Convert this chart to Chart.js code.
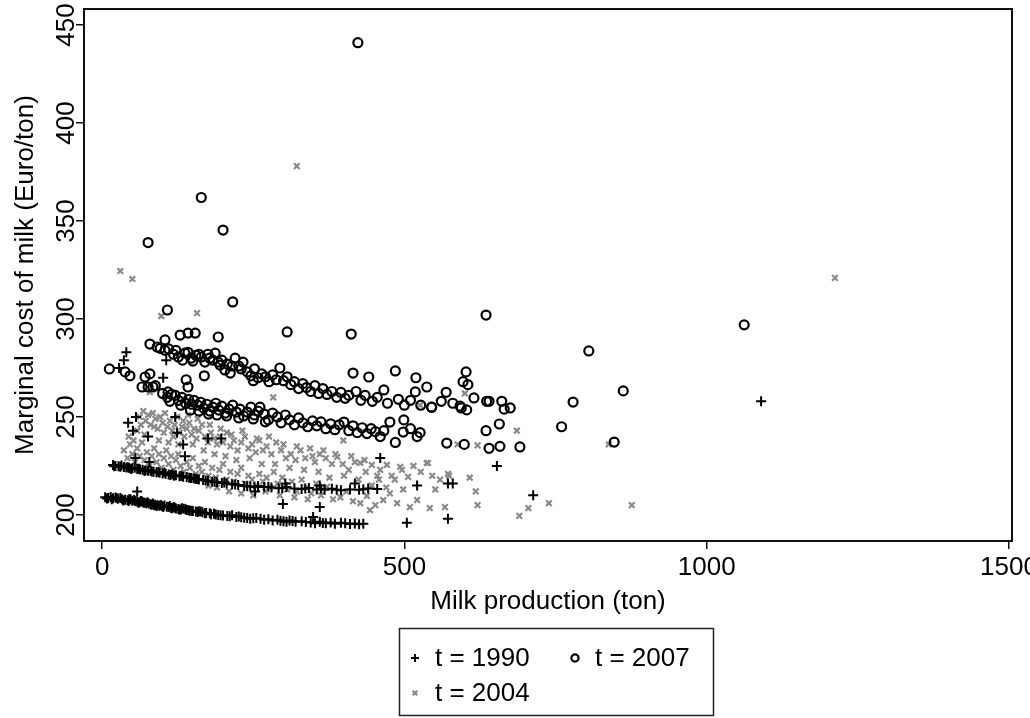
<!DOCTYPE html>
<html>
<head>
<meta charset="utf-8">
<script src="https://cdn.jsdelivr.net/npm/chart.js@4.4.0/dist/chart.umd.min.js"></script>
<style>
    html, body { margin: 0; padding: 0; background: #fff; }
    #wrap { width: 1030px; height: 718px; }
</style>
</head>
<body>
<div id="wrap"><canvas id="milkChart" width="1030" height="718"></canvas></div>
<script>
// --- Data (milk production in ton, marginal cost in Euro/ton) ---
const xTicks = [0, 500, 1000, 1500];
const yTicks = [200, 250, 300, 350, 400, 450];
const seriesLabels = ['t = 1990', 't = 2007', 't = 2004'];

const pts1990 = [
    // lower band
    [5,209],[10,208.6],[14,209.1],[18,208.5],[22,208.9],[26,208.2],[30,208.6],[33,208],[38,207.8],[42,207.5],
    [45,208.1],[47,207.9],[50,207.2],[53,207.6],[55,207],[58,206.8],[62,206.5],[64,207.1],[66,206.9],[70,206.2],
    [73,206],[75,206.5],[77,205.8],[80,205.5],[84,205.9],[88,205.2],[90,204.6],[92,205],[95,204.7],[99,204.5],
    [103,204.8],[107,204.2],[110,204],[112,204.6],[114,203.6],[118,203.9],[122,203.3],[126,203],[130,202.8],[132,203.4],
    [135,203.1],[140,202.5],[145,202.2],[150,202],[155,201.7],[160,201.9],[166,201.4],[172,201],[178,200.8],[185,200.6],
    [192,200],[200,199.7],[207,199.5],[215,199.8],[222,199],[230,198.8],[240,198.5],[250,198.3],[262,198],[275,197.8],
    [290,197.5],[300,196.8],[310,197.2],[320,196.5],[330,196.8],[345,196.2],[349,199],[352,195.8],[360,196.5],[370,195.7],
    [385,195.5],[395,196],[410,195.4],[425,195.2],[432,195.5],
    [8,208.4],[16,208],[24,208.6],[35,207.4],[44,207.1],[60,206.2],[68,206.4],[82,205.2],[86,204.9],[97,205.1],
    [101,204.1],[116,203.4],[120,203.8],[128,202.6],[138,202.9],[143,202.4],[148,202.1],[158,201.5],[163,201.7],[170,200.9],
    [180,200.4],[188,200.2],[196,199.9],[211,199.3],[226,199.2],[235,198.6],[245,198.1],[255,198.4],[268,197.6],[282,197.2],
    [295,197],[305,196.5],[315,196.9],[337,196.4],[365,195.9],[378,196.2],[402,195.8],[418,195.6],
    // upper band
    [18,225.5],[22,225],[27,224.8],[32,225.2],[36,224.5],[40,224.2],[45,224],[50,223.8],[54,224.1],[58,223.4],
    [63,223.2],[67,223],[72,222.8],[76,222.5],[80,222.7],[85,222],[90,221.8],[95,221.5],[100,221.2],[105,221],
    [110,220.6],[116,220.8],[122,220.2],[128,219.8],[134,219.5],[140,219.3],[147,218.9],[154,218.5],[160,218.1],[167,217.8],
    [175,217.5],[182,217],[190,216.7],[198,216.3],[206,216],[215,215.6],[225,215.3],[235,214.8],[245,214.5],[258,214.8],
    [268,214.2],[280,214],[292,213.6],[305,214.2],[318,213.5],[330,213.2],[342,213.8],[355,213],[368,212.8],[380,213.4],
    [395,212.6],[410,213],[425,212.8],[440,213.5],[455,213.2],
    [20,224.8],[30,224.6],[43,224.4],[48,223.5],[61,223.6],[70,222.4],[82,222.2],[93,221.9],[103,221.6],[113,220.4],
    [119,220],[131,219.9],[144,219],[151,218.7],[157,218.3],[171,217.6],[186,216.9],[202,216.5],[220,215.5],[240,214.6],
    [252,214.3],[275,214.4],[298,213.8],[336,213.5],[362,213.4],[388,212.9],[432,213.1],
    // scattered
    [40,283],[36,279],[28,275],[106,279],[101,270],[56,250],[43,247],[51,243],[76,240],[121,250],
    [124,242],[134,236],[55,229],[78,227],[137,230],[58,212],[197,239],[175,239],[253,212],[460,229],
    [303,216],[360,215],[418,216],[521,215],[299,205.6],[360,204],[504,196],[653,225],[580,216],[572,216],
    [713,210],[572,198],[1090,258]
];

const pts2007 = [
    // outliers and right side
    [423,441],[76,339],[164,362],[200,345.4],[108,304.6],[216,308.7],[306,293.4],[635,302],[412,292.3],[805,283.7],
    [862,263.3],[779,257.6],[760,245],[847,237.2],[1062,297],
    [602,273],[597,268],[605,266.5],[569,262.6],[561,258],[545,255],[580,257],[592,255.6],[594,254.6],[603,253.6],
    [615,259.7],[636,258],[640,258],[661,258],[665,254],[675,254.6],[635,243],[657,246.4],[570,236.7],[599,236],
    [640,234],[658,235],[691,234.7],
    // left cluster
    [12,274.5],[38,273],[46,271],[71,270.4],[79,272],[66,265.3],[76,265.3],[84,265.3],[88,266],[79,287.2],
    [91,285.7],[104,289.3],[104,284],[129,291.8],[142,292.8],[154,292.8],[192,290.8],[139,269],[142,265.3],[109,262.8],
    [169,271],
    // upper band
    [96,285],[110,284.7],[118,282],[126,280.6],[137,282.6],[147,280],[155,281.5],[164,280.6],[170,278],[175,282],
    [183,279],[187,282.6],[192,278],[195,276.5],[203,274],[207,277],[212,272.4],[220,280],[226,276],[233,278],
    [240,273],[246,271],[252,274.5],[258,270],[264,272],[270,270.5],[276,268],[282,271.5],[288,269],[294,275],
    [300,268.5],[306,270.5],[312,266.5],[318,268],[325,264.5],[332,267],[338,265],[345,263],[352,266],[358,262],
    [365,264.5],[372,261.5],[380,263],[388,260],[395,262.5],[402,259.5],[408,261],[415,272.4],[420,263],[428,258.5],
    [435,261],[441,270.4],[447,258],[455,260],[466,263.8],[472,257],[485,273.5],[490,259],[500,256],[510,258.5],
    [518,262.8],[519,270],[527,256],[537,265.3],[545,255],
    [122,284],[133,279],[142,283],[150,278.5],[160,282],[178,280],[198,279],[215,276],[230,274.5],[250,268.5],
    // lower band
    [100,262],[108,260],[115,261.5],[121,261],[126,258.5],[132,260],[138,257],[143,259],[148,256.5],[152,258.5],
    [158,256],[163,257.5],[168,254.5],[173,256.5],[178,253],[183,255],[188,257],[193,253.5],[198,255.5],[204,252],
    [210,254],[216,256],[222,252.5],[228,254],[234,250.5],[240,252.5],[246,255],[252,251],[258,253],[261,255],
    [268,251.5],[275,248.5],[282,252],[290,250],[296,247],[303,251],[310,248.5],[318,246],[325,249.5],[332,247],
    [340,245],[348,248],[355,245.5],[362,247.5],[370,244],[378,246.5],[385,243.5],[392,246],[400,247.4],[408,243],
    [415,245.5],[422,242],[430,244.5],[438,241.5],[445,244],[452,242.5],[460,240],[466,243],[476,247.4],[485,237],
    [498,242.3],[499,248.5],[510,244],[521,240],[526,242],
    [112,258],[130,256],[146,253.5],[160,253],[176,251.5],[190,251],[206,250.5],[226,249.5],[250,249],[270,247.5]
];

const pts2004 = [
    // outliers and right side
    [30,324.5],[50,320.4],[98,301.5],[157,303],[322,378],[1212,321],[838,236],[876,205],[739,206],[705,203.5],
    [690,199.5],[686,243],[621,235.5],[588,236],[600,262],[526,256],[608,219],[618,212],[621,205],[572,221],
    [559,218],[551,213],[567,204],[509,204],[521,207.6],[542,203.5],[539,226.5],[546,220],[574,220],[283,260],
    [79,262.7],
    // upper band
    [62,250],[68,253],[72,248],[76,251],[80,246],[84,252],[88,249],[92,244],[96,250],[100,247],
    [104,252],[108,245],[112,248],[116,243],[120,246],[124,250],[128,242],[132,245],[136,240],[140,244],
    [144,247],[148,241],[152,244],[156,239],[160,243],[165,246],[170,240],[175,237],[180,242],[185,239],
    [190,236],[195,240],[200,237],[206,242],[212,235],[218,238],[224,233],[230,237],[236,240],[242,234],
    [248,236],[254,232],[260,238],[266,233],[272,235],[280,231],[288,237],[296,233],[304,229],[312,231],
    [320,228],[328,233],[336,229],[344,234],[352,227],[360,231],[370,229],[380,226],[389,229.6],[398,226],
    [408,223],[418,227],[427,226.5],[436,222],[446,225.5],[455,220],[460,223],[471,225.5],[479,220],[493,224.5],
    [496,223],[506,219.4],[515,225],[527,222],[537,226.5],[399,238],
    [64,246],[70,241],[86,245],[94,238],[102,242],[110,237],[118,240],[126,236],[134,248],[142,251],
    [150,236],[158,249],[168,233],[178,246],[186,231],[196,244],[204,230],[214,241],[222,228],[232,243],
    [244,229],[256,239],[264,226],[276,240],[286,226],[300,236],[310,224],[322,235],[334,223],[348,230],
    [358,222],[366,233],[376,219],[386,231],[400,220],[412,230],[424,218],[434,228],[446,215],[458,218],
    [470,214],[484,218],[44,240],[52,238],[58,243],
    // lower band
    [36,233],[42,229],[46,236],[50,231],[54,227],[58,234],[62,230],[66,237],[70,228],[74,232],
    [78,225],[82,230],[86,234],[90,227],[94,231],[98,224],[102,229],[106,233],[110,226],[114,230],
    [118,223],[122,228],[126,231],[130,225],[135,222],[140,227],[145,224],[150,229],[155,221],[160,225],
    [165,222],[170,227],[176,220],[182,224],[188,219],[194,223],[200,226],[206,218],[212,222],[218,217],
    [224,221],[230,224],[236,216],[242,220],[248,218],[254,215],[260,221],[266,217],[272,219],[278,214],
    [284,222],[290,216],[298,219],[306,213],[314,217],[322,212],[330,218],[338,214],[346,211],[354,216],
    [362,210],[372,214.3],[382,208],[394,209],[404,212],[415,207],[427,206],[438,209.7],[443,202.5],[452,205],
    [465,207.6],[476,211],[488,206],[498,213],
    [176,215],[190,214],[210,212],[230,211],[250,210],[270,212],[294,210],[318,209],[340,208]
];

const FONT = 'Liberation Sans, Arial, Helvetica, sans-serif';

function toPoints(list) {
    return list.map(p => ({ x: p[0], y: p[1] }));
}

// Stata-like legend box under the plot
const boxLegend = {
    id: 'boxLegend',
    afterDraw(chart) {
        const ctx = chart.ctx;
        const left = 399, top = 628, w = 314, h = 87;
        ctx.save();
        ctx.strokeStyle = '#222';
        ctx.lineWidth = 1.5;
        ctx.strokeRect(left + 0.5, top + 0.5, w, h);
        const slots = [[left + 16, top + 30], [left + 176, top + 30], [left + 16, top + 65]];
        chart.data.datasets.forEach((ds, i) => {
            const [mx, my] = slots[i];
            ctx.strokeStyle = ds.borderColor;
            ctx.fillStyle = 'rgba(0,0,0,0)';
            ctx.lineWidth = ds.borderWidth;
            Chart.helpers.drawPoint(ctx, {
                pointStyle: ds.pointStyle,
                radius: ds.pointRadius * 0.8,
                borderWidth: ds.borderWidth,
                rotation: 0
            }, mx, my);
            ctx.fillStyle = '#000';
            ctx.font = '26px ' + FONT;
            ctx.textBaseline = 'middle';
            ctx.textAlign = 'left';
            ctx.fillText(ds.label, mx + 20, my + 1);
        });
        ctx.restore();
    }
};

// plot region frame
const frame = {
    id: 'frame',
    beforeDatasetsDraw(chart) {
        const a = chart.chartArea;
        const ctx = chart.ctx;
        ctx.save();
        ctx.strokeStyle = '#111';
        ctx.lineWidth = 2;
        ctx.strokeRect(a.left, a.top, a.right - a.left, a.bottom - a.top);
        ctx.restore();
    }
};

const ctx = document.getElementById('milkChart').getContext('2d');
new Chart(ctx, {
    type: 'scatter',
    data: {
        datasets: [
            {
                label: seriesLabels[0],
                data: toPoints(pts1990),
                pointStyle: 'cross',
                pointRadius: 5,
                borderWidth: 2,
                borderColor: '#000',
                backgroundColor: '#000',
                order: 1
            },
            {
                label: seriesLabels[1],
                data: toPoints(pts2007),
                pointStyle: 'circle',
                pointRadius: 4.5,
                borderWidth: 2.2,
                borderColor: '#000',
                backgroundColor: 'rgba(0,0,0,0)',
                order: 0
            },
            {
                label: seriesLabels[2],
                data: toPoints(pts2004),
                pointStyle: 'crossRot',
                pointRadius: 4,
                borderWidth: 2.2,
                borderColor: '#8a8a8a',
                backgroundColor: '#8a8a8a',
                order: 2
            }
        ]
    },
    options: {
        responsive: false,
        devicePixelRatio: 1,
        animation: false,
        events: [],
        layout: { padding: { left: 0, top: 9, right: 18, bottom: 87 } },
        scales: {
            x: {
                type: 'linear',
                min: -30,
                max: 1505,
                afterBuildTicks: s => { s.ticks = xTicks.map(v => ({ value: v })); },
                afterFit: s => { s.height = 90; s.paddingLeft = 0; s.paddingRight = 0; },
                grid: { drawOnChartArea: false, drawTicks: true, tickLength: 8, color: '#111', lineWidth: 1.5 },
                border: { display: false },
                ticks: {
                    color: '#000',
                    font: { family: FONT, size: 26 },
                    padding: 3,
                    maxRotation: 0,
                    callback: v => String(v)
                },
                title: {
                    display: true,
                    text: 'Milk production (ton)',
                    color: '#000',
                    font: { family: FONT, size: 26 },
                    padding: { top: 0, bottom: 14 }
                }
            },
            y: {
                type: 'linear',
                min: 186.7,
                max: 458.2,
                afterBuildTicks: s => { s.ticks = yTicks.map(v => ({ value: v })); },
                afterFit: s => { s.width = 84; s.paddingTop = 0; s.paddingBottom = 0; },
                grid: { drawOnChartArea: false, drawTicks: true, tickLength: 8, color: '#111', lineWidth: 1.5 },
                border: { display: false },
                ticks: {
                    color: '#000',
                    font: { family: FONT, size: 26 },
                    minRotation: 90,
                    maxRotation: 90,
                    crossAlign: 'center',
                    padding: -13,
                    callback: v => String(v)
                },
                title: {
                    display: true,
                    text: 'Marginal cost of milk (Euro/ton)',
                    color: '#000',
                    font: { family: FONT, size: 26 },
                    padding: { top: 10, bottom: 0 }
                }
            }
        },
        plugins: {
            legend: { display: false },
            tooltip: { enabled: false }
        }
    },
    plugins: [frame, boxLegend]
});
</script>
</body>
</html>
